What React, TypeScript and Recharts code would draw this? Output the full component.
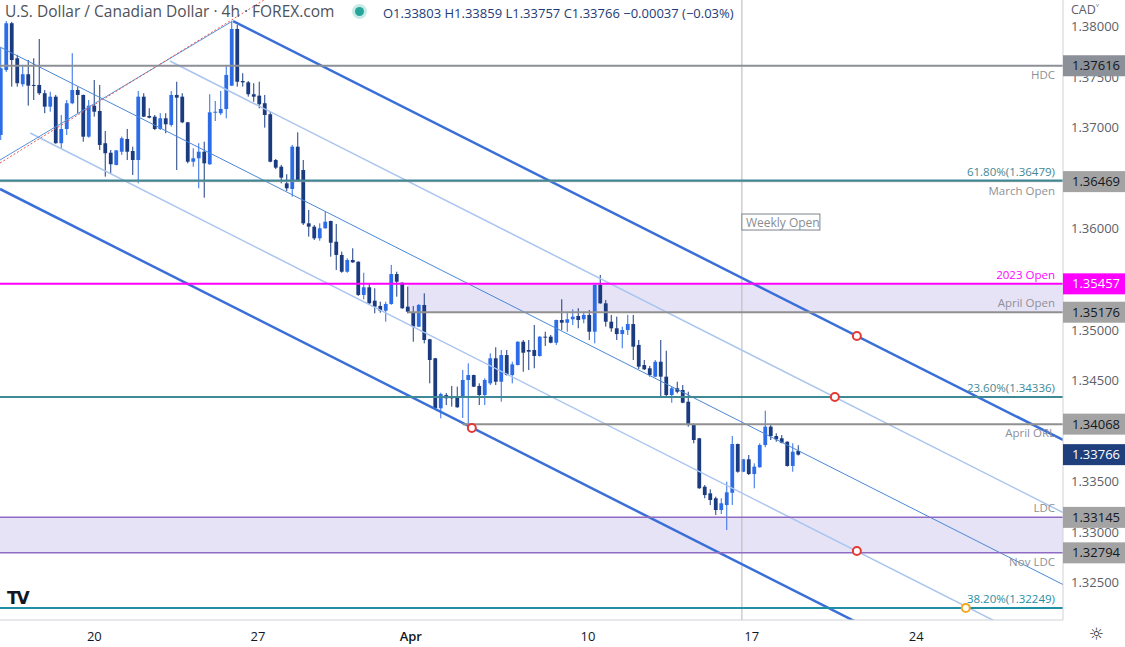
import React from "react";
import {
  ComposedChart, Bar, XAxis, YAxis, ReferenceLine, ReferenceArea, ReferenceDot,
} from "recharts";

// ---------- candle data (4h USD/CAD) ----------
const OPEN = [
  1.36931, 1.37574, 1.38037, 1.37690, 1.37433, 1.37532, 1.37426, 1.37426, 1.37344, 1.37211,
  1.37310, 1.36849, 1.36990, 1.37245, 1.37376, 1.37327, 1.36914, 1.37221, 1.37168, 1.36849,
  1.36755, 1.36634, 1.36765, 1.36891, 1.36772, 1.36683, 1.37310, 1.37119, 1.37112, 1.36990,
  1.37096, 1.37030, 1.37327, 1.37310, 1.37056, 1.36666, 1.36700, 1.36765, 1.36641, 1.37155,
  1.37146, 1.37188, 1.37419, 1.37980, 1.37465, 1.37452, 1.37334, 1.37320, 1.37245, 1.37136,
  1.36683, 1.36617, 1.36452, 1.36396, 1.36815, 1.36584, 1.36056, 1.36023, 1.35908, 1.36007,
  1.36079, 1.35874, 1.35743, 1.35577, 1.35693, 1.35676, 1.35347, 1.35423, 1.35290, 1.35238,
  1.35191, 1.35257, 1.35554, 1.35468, 1.35231, 1.35175, 1.35033, 1.35248, 1.34908, 1.34720,
  1.34225, 1.34356, 1.34346, 1.34346, 1.34340, 1.34505, 1.34554, 1.34446, 1.34356, 1.34472,
  1.34720, 1.34488, 1.34752, 1.34554, 1.34653, 1.34884, 1.34802, 1.34802, 1.34743, 1.34934,
  1.34934, 1.34874, 1.35099, 1.35072, 1.35106, 1.35139, 1.35106, 1.35149, 1.34983, 1.35446,
  1.35264, 1.35082, 1.35017, 1.34960, 1.35000, 1.35059, 1.34852, 1.34653, 1.34621, 1.34538,
  1.34686, 1.34538, 1.34356, 1.34423, 1.34406, 1.34290, 1.34059, 1.33928, 1.33449, 1.33383,
  1.33334, 1.33218, 1.33267, 1.33389, 1.33871, 1.33597, 1.33720, 1.33574, 1.33641, 1.33861,
  1.34043, 1.33950, 1.33928, 1.33894, 1.33654, 1.33803,
];
const HIGH = [
  1.37792, 1.38059, 1.38050, 1.37723, 1.37624, 1.37673, 1.37690, 1.37881, 1.37376, 1.37359,
  1.37327, 1.37129, 1.37277, 1.37740, 1.37409, 1.37330, 1.37277, 1.37475, 1.37426, 1.36970,
  1.36782, 1.36782, 1.36914, 1.36990, 1.36815, 1.37366, 1.37344, 1.37195, 1.37129, 1.37146,
  1.37146, 1.37366, 1.37458, 1.37344, 1.37060, 1.36799, 1.36849, 1.36864, 1.37334, 1.37267,
  1.37366, 1.37624, 1.38052, 1.38020, 1.37542, 1.37465, 1.37443, 1.37458, 1.37327, 1.37161,
  1.36693, 1.36634, 1.36542, 1.36832, 1.36957, 1.36683, 1.36188, 1.36040, 1.36056, 1.36171,
  1.36082, 1.36050, 1.35775, 1.35710, 1.35809, 1.35680, 1.35567, 1.35462, 1.35413, 1.35280,
  1.35280, 1.35644, 1.35577, 1.35472, 1.35429, 1.35238, 1.35257, 1.35363, 1.34912, 1.34724,
  1.34379, 1.34376, 1.34446, 1.34439, 1.34604, 1.34670, 1.34558, 1.34472, 1.34522, 1.34769,
  1.34829, 1.34802, 1.34802, 1.34686, 1.34888, 1.34901, 1.34901, 1.35050, 1.34938, 1.34983,
  1.34951, 1.35103, 1.35304, 1.35171, 1.35205, 1.35215, 1.35181, 1.35198, 1.35450, 1.35545,
  1.35297, 1.35149, 1.35132, 1.35033, 1.35149, 1.35149, 1.34901, 1.34703, 1.34644, 1.34703,
  1.34901, 1.34795, 1.34439, 1.34488, 1.34455, 1.34389, 1.34076, 1.33932, 1.33465, 1.33423,
  1.33350, 1.33334, 1.33498, 1.33950, 1.33875, 1.33724, 1.33762, 1.33680, 1.33878, 1.34201,
  1.34059, 1.33977, 1.33960, 1.33898, 1.33878, 1.33859,
];
const LOW = [
  1.36881, 1.37554, 1.37409, 1.37409, 1.37409, 1.37221, 1.37277, 1.37327, 1.37146, 1.37161,
  1.36845, 1.36799, 1.36931, 1.37235, 1.37146, 1.36864, 1.36904, 1.37112, 1.36782, 1.36518,
  1.36551, 1.36630, 1.36733, 1.36683, 1.36535, 1.36452, 1.37108, 1.37096, 1.36980, 1.36980,
  1.36948, 1.37013, 1.36584, 1.37047, 1.36650, 1.36617, 1.36403, 1.36310, 1.36635, 1.37069,
  1.37129, 1.37096, 1.37415, 1.37409, 1.37409, 1.37310, 1.37260, 1.37195, 1.37003, 1.36660,
  1.36594, 1.36452, 1.36376, 1.36320, 1.36468, 1.36040, 1.35924, 1.35891, 1.35884, 1.36003,
  1.35726, 1.35594, 1.35567, 1.35567, 1.35665, 1.35337, 1.35304, 1.35257, 1.35165, 1.35171,
  1.35082, 1.35250, 1.35330, 1.35210, 1.35165, 1.34884, 1.35030, 1.34868, 1.34472, 1.34220,
  1.34126, 1.34257, 1.34241, 1.34230, 1.34129, 1.34059, 1.34435, 1.34257, 1.34257, 1.34455,
  1.34455, 1.34290, 1.34550, 1.34472, 1.34650, 1.34587, 1.34604, 1.34621, 1.34736, 1.34842,
  1.34868, 1.34852, 1.35000, 1.34983, 1.35050, 1.35017, 1.35066, 1.34901, 1.34868, 1.35260,
  1.35033, 1.34983, 1.34901, 1.34819, 1.34951, 1.34703, 1.34614, 1.34604, 1.34538, 1.34532,
  1.34340, 1.34340, 1.34280, 1.34373, 1.34275, 1.34043, 1.33878, 1.33428, 1.33334, 1.33267,
  1.33168, 1.33178, 1.33020, 1.33267, 1.33587, 1.33593, 1.33564, 1.33433, 1.33637, 1.33839,
  1.33911, 1.33894, 1.33878, 1.33647, 1.33597, 1.33757,
];
const CLOSE = [
  1.37591, 1.38037, 1.37673, 1.37443, 1.37532, 1.37419, 1.37421, 1.37344, 1.37211, 1.37310,
  1.36849, 1.36990, 1.37245, 1.37376, 1.37327, 1.36914, 1.37221, 1.37161, 1.36832, 1.36750,
  1.36641, 1.36778, 1.36898, 1.36765, 1.36683, 1.37310, 1.37112, 1.37102, 1.36990, 1.37096,
  1.37037, 1.37327, 1.37300, 1.37056, 1.36666, 1.36700, 1.36765, 1.36650, 1.37155, 1.37161,
  1.37188, 1.37525, 1.37980, 1.37458, 1.37452, 1.37334, 1.37310, 1.37235, 1.37129, 1.36666,
  1.36607, 1.36508, 1.36403, 1.36815, 1.36485, 1.36056, 1.36023, 1.35908, 1.36007, 1.36072,
  1.35864, 1.35743, 1.35577, 1.35693, 1.35670, 1.35347, 1.35423, 1.35264, 1.35231, 1.35191,
  1.35257, 1.35554, 1.35478, 1.35215, 1.35181, 1.35033, 1.35248, 1.34901, 1.34703, 1.34225,
  1.34366, 1.34324, 1.34324, 1.34235, 1.34505, 1.34554, 1.34439, 1.34356, 1.34505, 1.34720,
  1.34488, 1.34752, 1.34554, 1.34660, 1.34884, 1.34775, 1.34785, 1.34743, 1.34934, 1.34924,
  1.34874, 1.35099, 1.35072, 1.35106, 1.35132, 1.35099, 1.35149, 1.34983, 1.35446, 1.35264,
  1.35082, 1.35017, 1.34960, 1.35000, 1.35059, 1.34835, 1.34637, 1.34611, 1.34554, 1.34686,
  1.34538, 1.34356, 1.34423, 1.34389, 1.34280, 1.34059, 1.33911, 1.33433, 1.33366, 1.33317,
  1.33218, 1.33284, 1.33393, 1.33871, 1.33597, 1.33720, 1.33574, 1.33647, 1.33861, 1.34043,
  1.33950, 1.33918, 1.33884, 1.33654, 1.33795, 1.33766,
];

// ---------- axes ----------
const X_DOMAIN = [-0.09, 193.18];
const Y_DOMAIN = [1.32129, 1.38267];
const TIME_TICKS = [17.07, 46.8, 74.6, 106.8, 136.6, 166.5];
const TIME_LABELS = ["20", "27", "Apr", "10", "17", "24"];
const PRICE_TICKS = [1.325, 1.33, 1.335, 1.345, 1.35, 1.36, 1.37, 1.375, 1.38];

// ---------- horizontal levels ----------
const LEVEL_PRICES = [1.37616, 1.36479, 1.36469, 1.35457, 1.35176, 1.34336, 1.34068, 1.33145, 1.32794, 1.32249];
const LEVEL_NAMES = ["HDC", "61.80%(1.36479)", "March Open", "2023 Open", "April Open", "23.60%(1.34336)", "April ORL", "LDC", "Nov LDC", "38.20%(1.32249)"];
const LAST_PRICE = 1.33766;
// price-scale tags (value boxes on the right axis)
const TAG_PRICES = [1.37616, 1.36469, 1.35457, 1.35176, 1.34068, 1.33766, 1.33145, 1.32794];
const APRIL_START = 74;
const ORL_START = 84;

// ---------- drawn channel lines [barIndex, price] ----------
const THICK_UPPER = [[42.3, 1.38059], [193.18, 1.33911]];
const THICK_LOWER = [[-0.09, 1.36396], [193.18, 1.31074]];
const MEDIUM_LINE = [[-0.09, 1.37802], [193.18, 1.3248]];
const LIGHT_UPPER = [[30.8, 1.37663], [193.18, 1.33193]];
const LIGHT_LOWER = [[5.4, 1.3695], [193.18, 1.31777]];
const RISING_LINE = [[-0.09, 1.36683], [42.2, 1.38059]];
const RED_DOTTED = [[-0.09, 1.36653], [47.9, 1.38267]];
const WEEKLY_OPEN_X = 134.8;
const WEEKLY_LABEL_PRICE = 1.36069;
const RED_MARKERS = [[155.7, 1.34941], [151.7, 1.34337], [85.7, 1.3403], [155.7, 1.32812]];
const ORANGE_MARKER = [175.5, 1.32249];

const candles = OPEN.map((o, i) => ({ i, o, h: HIGH[i], l: LOW[i], c: CLOSE[i] }));

const BULL = "#2c6ce6";
const BEAR = "#1b3b80";
const FONT = '"Open Sans", "Noto Sans", sans-serif';
const GRAY_TXT = "#8e9096";
const TEAL = "#3f8896";
const TAG_FILLS = ["#8c9099", "#a3a3a3", "#ff00ff", "#a3a3a3", "#a3a3a3", "#1e3e7c", "#a3a3a3", "#a3a3a3"];
const TAG_TEXT = ["#131722", "#131722", "#ffffff", "#131722", "#131722", "#ffffff", "#131722", "#131722"];

const Candle = (props: any) => {
  const { x, y, width, height, payload } = props;
  if (!payload || x == null) return null;
  const top = Math.min(y, y + height);
  const hh = Math.abs(height);
  const cx = x + width / 2;
  const { o, h, l, c } = payload;
  const k = hh / (h - l || 1e-9);
  const yO = top + (h - o) * k;
  const yC = top + (h - c) * k;
  const bt = Math.min(yO, yC);
  const bh = Math.max(Math.abs(yO - yC), 1);
  const col = c >= o ? BULL : BEAR;
  return (
    <g>
      <line x1={cx} x2={cx} y1={top} y2={top + hh} stroke={col} strokeWidth={1} />
      <rect x={cx - 1.9} y={bt} width={3.8} height={bh} fill={col} />
    </g>
  );
};

const makeLabel = (opts: { text: string; color?: string; below?: boolean }) => (p: any) => {
  const vb = p.viewBox || {};
  const right = (vb.x || 0) + (vb.width || 0);
  const y = vb.y || 0;
  return (
    <text x={right - 8} y={opts.below ? y + 13 : y - 5} textAnchor="end" fontSize={11.5}
      fontFamily={FONT} fill={opts.color || GRAY_TXT}>{opts.text}</text>
  );
};

const seg = (pts: number[][]) => pts.map(([x, y]) => ({ x, y }));

const XTick = (p: any) => {
  const { x, y, payload } = p;
  const idx = TIME_TICKS.indexOf(payload.value);
  const lab = TIME_LABELS[idx] ?? "";
  return (
    <text x={x} y={y + 13} textAnchor="middle" fontSize={13} fontFamily={FONT}
      fill="#131722" fontWeight={lab === "Apr" ? 600 : 400}>{lab}</text>
  );
};

const YTick = (p: any) => {
  const { x, y, payload } = p;
  const v = payload.value as number;
  const ti = TAG_PRICES.indexOf(v);
  if (ti < 0) {
    return (
      <text x={x} y={y + 4.5} fontSize={13} fontFamily={FONT} fill="#5d6069">{v.toFixed(5)}</text>
    );
  }
  return (
    <g>
      <rect x={x - 8} y={y - 10.5} width={62} height={21} fill={TAG_FILLS[ti]} />
      <text x={x + 1} y={y + 4.5} fontSize={13} fontFamily={FONT} fill={TAG_TEXT[ti]}>{v.toFixed(5)}</text>
    </g>
  );
};

export default function App() {
  return (
    <div style={{ position: "absolute", left: 0, top: 0, width: 1125, height: 647, background: "#fff", fontFamily: FONT, overflow: "hidden" }}>
      <ComposedChart width={1125} height={647} data={candles} margin={{ top: 0, right: 0, bottom: 0, left: 0 }}>
        <XAxis dataKey="i" type="number" domain={X_DOMAIN} allowDataOverflow ticks={TIME_TICKS} interval={0}
          height={27} tickLine={false} axisLine={{ stroke: "#cfd1d6" }} tick={<XTick />} />
        <YAxis orientation="right" type="number" domain={Y_DOMAIN} allowDataOverflow
          ticks={[...PRICE_TICKS, ...TAG_PRICES]} interval={0}
          width={62} tickLine={false} axisLine={{ stroke: "#cfd1d6" }} tick={<YTick />} />

        <Bar dataKey={(d: any) => [d.l, d.h]} barSize={4} shape={<Candle />} isAnimationActive={false} />

        {/* shaded zones */}
        <ReferenceArea x1={APRIL_START} x2={X_DOMAIN[1]} y1={LEVEL_PRICES[4]} y2={LEVEL_PRICES[3]}
          fill="#c9c2ea" fillOpacity={0.45} stroke="none" ifOverflow="hidden" />
        <ReferenceArea x1={X_DOMAIN[0]} x2={X_DOMAIN[1]} y1={LEVEL_PRICES[8]} y2={LEVEL_PRICES[7]}
          fill="#c9c2ea" fillOpacity={0.45} stroke="none" ifOverflow="hidden" />

        {/* weekly open */}
        <ReferenceLine x={WEEKLY_OPEN_X} stroke="#b4b6bb" strokeWidth={1} />

        {/* channels */}
        <ReferenceLine segment={seg(LIGHT_UPPER)} stroke="#a9c5ef" strokeWidth={1.5} ifOverflow="hidden" />
        <ReferenceLine segment={seg(LIGHT_LOWER)} stroke="#a9c5ef" strokeWidth={1.5} ifOverflow="hidden" />
        <ReferenceLine segment={seg(MEDIUM_LINE)} stroke="#4a87d6" strokeWidth={1} ifOverflow="hidden" />
        <ReferenceLine segment={seg(RISING_LINE)} stroke="#5593dc" strokeWidth={1} ifOverflow="hidden" />
        <ReferenceLine segment={seg(RED_DOTTED)} stroke="#ef5350" strokeWidth={1} strokeDasharray="2 2" ifOverflow="hidden" />
        <ReferenceLine segment={seg(THICK_UPPER)} stroke="#3a6fd8" strokeWidth={2.5} ifOverflow="hidden" />
        <ReferenceLine segment={seg(THICK_LOWER)} stroke="#3a6fd8" strokeWidth={2.5} ifOverflow="hidden" />

        {/* horizontal levels */}
        <ReferenceLine y={LEVEL_PRICES[0]} stroke="#8c8f96" strokeWidth={2}
          label={makeLabel({ text: LEVEL_NAMES[0], below: true })} />
        <ReferenceLine y={LEVEL_PRICES[2]} stroke="#9a9a9a" strokeWidth={1}
          label={makeLabel({ text: LEVEL_NAMES[2], below: true })} />
        <ReferenceLine y={LEVEL_PRICES[1]} stroke={TEAL} strokeWidth={2}
          label={makeLabel({ text: LEVEL_NAMES[1], color: TEAL })} />
        <ReferenceLine y={LEVEL_PRICES[3]} stroke="#ff00ff" strokeWidth={2}
          label={makeLabel({ text: LEVEL_NAMES[3], color: "#ff00ff" })} />
        <ReferenceLine segment={[{ x: APRIL_START, y: LEVEL_PRICES[4] }, { x: X_DOMAIN[1], y: LEVEL_PRICES[4] }]} stroke="#909090" strokeWidth={2}
          label={makeLabel({ text: LEVEL_NAMES[4] })} />
        <ReferenceLine y={LEVEL_PRICES[5]} stroke={TEAL} strokeWidth={2}
          label={makeLabel({ text: LEVEL_NAMES[5], color: TEAL })} />
        <ReferenceLine segment={[{ x: ORL_START, y: LEVEL_PRICES[6] }, { x: X_DOMAIN[1], y: LEVEL_PRICES[6] }]} stroke="#909090" strokeWidth={2}
          label={makeLabel({ text: LEVEL_NAMES[6], below: true })} />
        <ReferenceLine y={LEVEL_PRICES[7]} stroke="#8e6cc4" strokeWidth={1.5}
          label={makeLabel({ text: LEVEL_NAMES[7] })} />
        <ReferenceLine y={LEVEL_PRICES[8]} stroke="#8e6cc4" strokeWidth={1.5}
          label={makeLabel({ text: LEVEL_NAMES[8], below: true })} />
        <ReferenceLine y={LEVEL_PRICES[9]} stroke="#1f8fa6" strokeWidth={2}
          label={makeLabel({ text: LEVEL_NAMES[9], color: "#1f8fa6" })} />

        {/* markers */}
        {RED_MARKERS.map(([x, y], k) => (
          <ReferenceDot key={k} x={x} y={y} r={4} fill="#ffffff" stroke="#e53935" strokeWidth={2} />
        ))}
        <ReferenceDot x={ORANGE_MARKER[0]} y={ORANGE_MARKER[1]} r={4} fill="#ffffff" stroke="#f5a623" strokeWidth={2} />

        <ReferenceDot x={WEEKLY_OPEN_X} y={WEEKLY_LABEL_PRICE} r={1}
          shape={(p: any) => (
            <g>
              <rect x={p.cx} y={p.cy - 8} width={78} height={16} fill="#ffffff" stroke="#7d838c" strokeWidth={1} />
              <text x={p.cx + 4} y={p.cy + 4.5} fontSize={12} fontFamily={FONT} fill="#8a8c92">Weekly Open</text>
            </g>
          )} />
      </ComposedChart>

      {/* header */}
      <div style={{ position: "absolute", left: 5, top: 0, fontSize: 15.5, color: "#4f5159", whiteSpace: "nowrap" }}>
        U.S. Dollar / Canadian Dollar · 4h · FOREX.com
      </div>
      <div style={{ position: "absolute", left: 355, top: 7, width: 9, height: 9, borderRadius: 5, background: "#26a69a", boxShadow: "0 0 0 3px #c9ebe7" }} />
      <div style={{ position: "absolute", left: 383, top: 4, fontSize: 13, color: "#1d3b78", whiteSpace: "nowrap" }}>
        O1.33803 H1.33859 L1.33757 C1.33766 −0.00037 (−0.03%)
      </div>
      <div style={{ position: "absolute", left: 1071, top: 1, fontSize: 12.5, color: "#5d6069" }}>CAD˅</div>
      <div style={{ position: "absolute", left: 7, top: 588, fontSize: 17, fontWeight: 900, color: "#131722", letterSpacing: -2, fontFamily: "DejaVu Sans" }}>TV</div>
      <div style={{ position: "absolute", left: 1089, top: 624, fontSize: 17, color: "#333", fontFamily: "DejaVu Sans" }}>☼</div>
    </div>
  );
}
